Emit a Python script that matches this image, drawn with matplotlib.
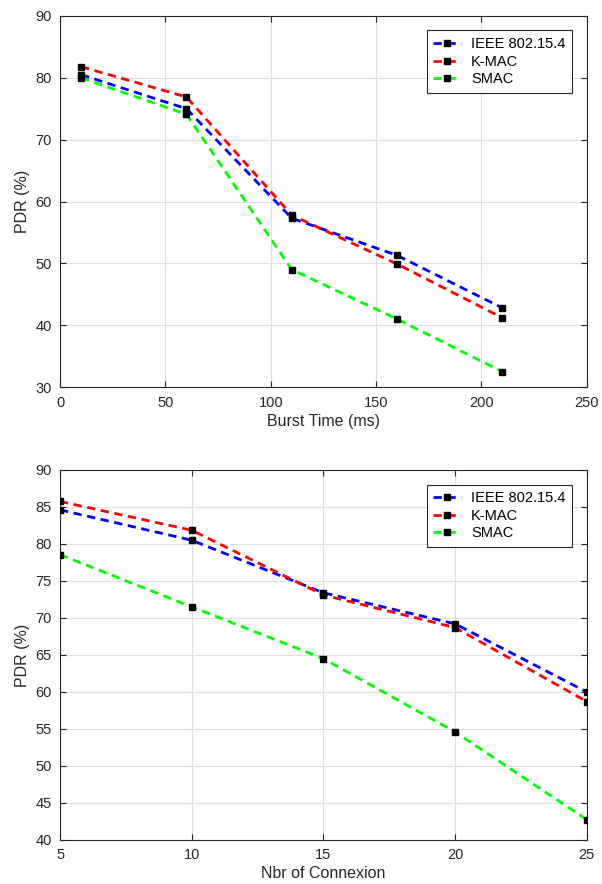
import numpy as np
import matplotlib.pyplot as plt

plt.rcParams['font.family'] = ['Liberation Sans', 'DejaVu Sans']

# top panel: PDR vs burst time
burst = [10, 60, 110, 160, 210]
ieee_burst = [80.5, 75.0, 57.3, 51.3, 42.8]
kmac_burst = [81.8, 76.9, 57.8, 49.9, 41.2]
smac_burst = [80.0, 74.1, 49.0, 41.0, 32.5]

# bottom panel: PDR vs number of connexions
conn = [5, 10, 15, 20, 25]
ieee_conn = [84.6, 80.5, 73.4, 69.2, 60.0]
kmac_conn = [85.75, 81.85, 73.1, 68.7, 58.7]
smac_conn = [78.55, 71.5, 64.5, 54.6, 42.75]

labels = ['IEEE 802.15.4', 'K-MAC', 'SMAC']
colors = ['#0000ff', '#ff0000', '#00ff00']

fig = plt.figure(figsize=(6.02, 8.84), dpi=100)
ax1 = fig.add_axes([0.0997, 0.562, 0.875, 0.42])
ax2 = fig.add_axes([0.0997, 0.0498, 0.875, 0.4186])


def draw(ax, x, series):
    for ys, c, lab in zip(series, colors, labels):
        ax.plot(x, ys, '--', color=c, lw=2, dashes=(3, 2), label=lab,
                marker='s', ms=5, mfc='black', mec='black', zorder=3)
    ax.grid(True, color='#dddddd', lw=0.8)
    ax.set_axisbelow(True)
    ax.tick_params(direction='in', top=True, right=True, labelsize=10.5,
                   colors='#262626', length=4, pad=6)
    for s in ax.spines.values():
        s.set_color('#262626')
    ax.set_ylabel('PDR (%)', fontsize=11.5, color='#262626', labelpad=4)
    leg = ax.legend(loc='upper right', fontsize=10.5, fancybox=False,
                    edgecolor='#262626', framealpha=1, handlelength=1.9,
                    handletextpad=0.7, labelspacing=0.25, borderaxespad=1.0,
                    borderpad=0.45)
    leg.get_frame().set_linewidth(0.8)


draw(ax1, burst, [ieee_burst, kmac_burst, smac_burst])
ax1.set_xlim(0, 250)
ax1.set_ylim(30, 90)
ax1.set_xticks([0, 50, 100, 150, 200, 250])
ax1.set_yticks([30, 40, 50, 60, 70, 80, 90])
ax1.set_xlabel('Burst Time (ms)', fontsize=11.5, color='#262626', labelpad=3)

draw(ax2, conn, [ieee_conn, kmac_conn, smac_conn])
ax2.set_xlim(5, 25)
ax2.set_ylim(40, 90)
ax2.set_xticks([5, 10, 15, 20, 25])
ax2.set_yticks(np.arange(40, 91, 5))
ax2.set_xlabel('Nbr of Connexion', fontsize=11.5, color='#262626', labelpad=3)

fig.savefig('out.png', dpi=100)
